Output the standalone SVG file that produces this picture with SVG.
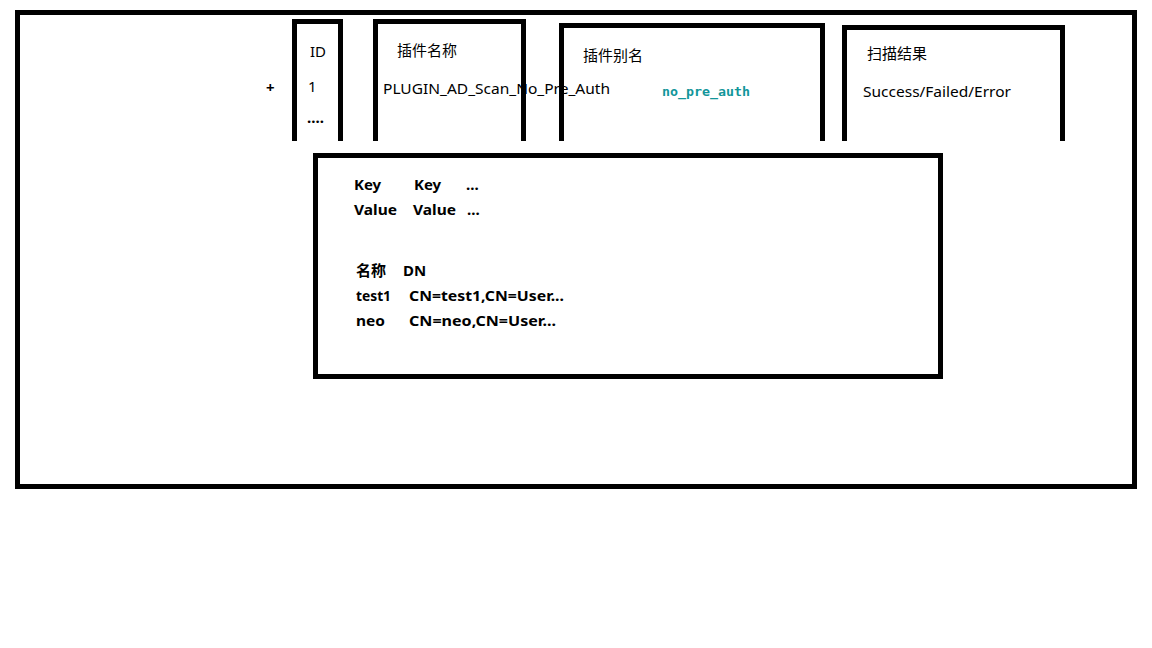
<svg xmlns="http://www.w3.org/2000/svg" width="1152" height="648" viewBox="0 0 1152 648">
<style>
.frame{fill:none;stroke:#000;stroke-width:5;stroke-linejoin:miter;stroke-linecap:butt}
.t{font-family:"Noto Sans","Noto Sans CJK SC",sans-serif;font-size:15px;fill:#000}
.b{font-family:"Noto Sans","Noto Sans CJK SC",sans-serif;font-size:15px;font-weight:bold;fill:#000}
.code{font-family:"DejaVu Sans Mono","Liberation Mono",monospace;font-size:13px;font-weight:bold;fill:#12969a}
</style>
<rect width="1152" height="648" fill="#fff"/>
<g id="outer">
<rect class="frame" x="17.5" y="12.5" width="1117" height="474"/>
</g>
<g id="plus">
<text class="b" x="266" y="93" font-size="16">+</text>
</g>
<g id="col-id">
<path class="frame" d="M294.5,141 V21.5 H340.5 V141"/>
<text class="t" x="310" y="57">ID</text>
<text class="t" x="308" y="92">1</text>
<text class="b" x="307" y="123">....</text>
</g>
<g id="col-name">
<path class="frame" d="M375.5,141 V21.5 H523.5 V141"/>
<text class="t" x="397" y="56">插件名称</text>
<text class="t" x="383" y="94" textLength="227" lengthAdjust="spacingAndGlyphs">PLUGIN_AD_Scan_No_Pre_Auth</text>
</g>
<g id="col-alias">
<path class="frame" d="M561.5,141 V25.5 H822.5 V141"/>
<text class="t" x="583" y="61">插件别名</text>
<text class="code" x="662" y="96" textLength="88" lengthAdjust="spacingAndGlyphs">no_pre_auth</text>
</g>
<g id="col-result">
<path class="frame" d="M844.5,141 V27.5 H1062.5 V141"/>
<text class="t" x="867" y="59">扫描结果</text>
<text class="t" x="863" y="97" textLength="148" lengthAdjust="spacingAndGlyphs">Success/Failed/Error</text>
</g>
<g id="detail">
<rect class="frame" x="315.5" y="155.5" width="625" height="221"/>
<text class="b" x="354" y="190">Key</text>
<text class="b" x="414" y="190">Key</text>
<text class="b" x="466" y="190">...</text>
<text class="b" x="354" y="215" textLength="43" lengthAdjust="spacingAndGlyphs">Value</text>
<text class="b" x="413" y="215" textLength="43" lengthAdjust="spacingAndGlyphs">Value</text>
<text class="b" x="467" y="215">...</text>
<text class="b" x="356" y="276">名称</text>
<text class="b" x="403" y="276">DN</text>
<text class="b" x="356" y="301" textLength="35" lengthAdjust="spacingAndGlyphs">test1</text>
<text class="b" x="409" y="301" textLength="155" lengthAdjust="spacingAndGlyphs">CN=test1,CN=User...</text>
<text class="b" x="356" y="326" textLength="29" lengthAdjust="spacingAndGlyphs">neo</text>
<text class="b" x="409" y="326" textLength="147" lengthAdjust="spacingAndGlyphs">CN=neo,CN=User...</text>
</g>
<g id="connectors"/>
</svg>
